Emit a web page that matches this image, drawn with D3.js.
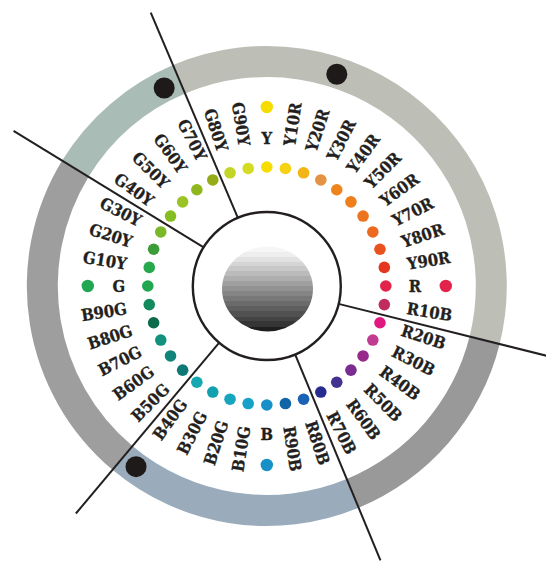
<!DOCTYPE html>
<html>
<head>
<meta charset="utf-8">
<script src="https://cdn.jsdelivr.net/npm/d3@7"></script>
<style>
  html, body { margin: 0; padding: 0; background: #ffffff; }
  svg { display: block; }
</style>
</head>
<body>
<svg id="chart" width="546" height="561"></svg>
<script>
// ---- data ----
const hues = ["Y","Y10R","Y20R","Y30R","Y40R","Y50R","Y60R","Y70R","Y80R","Y90R",
              "R","R10B","R20B","R30B","R40B","R50B","R60B","R70B","R80B","R90B",
              "B","B10G","B20G","B30G","B40G","B50G","B60G","B70G","B80G","B90G",
              "G","G10Y","G20Y","G30Y","G40Y","G50Y","G60Y","G70Y","G80Y","G90Y"];
const hueColors = ["#f6dc00","#f6d214","#f3b514","#e39342","#ee851c","#ef7f1a","#ee731e","#ec6a20","#e9521f","#e5371f",
                   "#e2244c","#c12c5e","#e1187f","#c03c90","#96298a","#7b2c91","#44308e","#262d8e","#1a62b6","#0f65a6",
                   "#1690c6","#18a1c8","#17a5bd","#11a1ae","#16a8b0","#0e7877","#0f8478","#14907e","#0b6b4a","#138a5e",
                   "#21a651","#26a84c","#3c9c38","#7ab82a","#86bd20","#9ac425","#90b71e","#95ab18","#c2d424","#d4dc22"];
const elementaryHues = ["Y","R","B","G"];
const spokeAngles = [-113, -148.5, 14, 67.5, 130];           // degrees, screen coords
const ringSegments = [
  {from: -113,  to: 14,    color: "#bdbfb6"},
  {from: 14,    to: 67.5,  color: "#999999"},
  {from: 67.5,  to: 130,   color: "#9aabbc"},
  {from: 130,   to: 211.5, color: "#9e9e9e"},
  {from: 211.5, to: 247,   color: "#a9bcb6"}
];
const markerAngles = [-117.4, -71.7, 125.9];
const grayLevels = ["#f6f6f6","#eeeeee","#e2e2e2","#d5d5d5","#c8c8c8","#bbbbbb","#aeaeae","#a0a0a0",
                    "#929292","#858585","#787878","#6b6b6b","#5e5e5e","#515151","#444444","#353535","#1e1e1e"];

// ---- layout ----
const cx = 266.8, cy = 286;
const R = {
  dots: 119, outerDots: 179, labels: 142, elemLabels: 148,
  ringIn: 209, ringOut: 240, marker: 223, core: 74, spokeEnd: 297
};
const rad = d => d * Math.PI / 180;
const svg = d3.select("#chart");
const g = svg.append("g").attr("transform", `translate(${cx},${cy})`);

const angle = d3.scaleLinear().domain([0, hues.length]).range([-90, 270]);
const polar = (r, a) => [r * Math.cos(rad(a)), r * Math.sin(rad(a))];

// sphere gradient (banded)
const defs = svg.append("defs");
const grad = defs.append("linearGradient").attr("id", "sphere")
  .attr("x1", 0).attr("y1", 0).attr("x2", 0).attr("y2", 1);
const n = grayLevels.length;
grayLevels.forEach((c, i) => {
  grad.append("stop").attr("offset", i / n).attr("stop-color", c);
  grad.append("stop").attr("offset", (i + 1) / n).attr("stop-color", c);
});

// outer ring
const arc = d3.arc().innerRadius(R.ringIn).outerRadius(R.ringOut);
g.selectAll("path.ring").data(ringSegments).join("path")
  .attr("class", "ring")
  .attr("d", d => arc({startAngle: rad(d.from + 90), endAngle: rad(d.to + 90)}))
  .attr("fill", d => d.color);

// spokes
g.selectAll("line.spoke").data(spokeAngles).join("line")
  .attr("class", "spoke")
  .attr("x1", d => polar(R.core, d)[0]).attr("y1", d => polar(R.core, d)[1])
  .attr("x2", d => polar(R.spokeEnd, d)[0]).attr("y2", d => polar(R.spokeEnd, d)[1])
  .attr("stroke", "#231f20").attr("stroke-width", 2);

// markers on ring
g.selectAll("circle.marker").data(markerAngles).join("circle")
  .attr("class", "marker")
  .attr("cx", d => polar(R.marker, d)[0]).attr("cy", d => polar(R.marker, d)[1])
  .attr("r", 10.5).attr("fill", "#1e1a1a");

// core
g.append("circle").attr("r", R.core).attr("fill", "#fff")
  .attr("stroke", "#231f20").attr("stroke-width", 2.4);
g.append("ellipse").attr("cx", 0.7).attr("cy", 3).attr("rx", 45.5).attr("ry", 42.5)
  .attr("fill", "url(#sphere)");

// hue dots
g.selectAll("circle.hue").data(hues).join("circle")
  .attr("class", "hue")
  .attr("cx", (d, i) => polar(R.dots, angle(i))[0])
  .attr("cy", (d, i) => polar(R.dots, angle(i))[1])
  .attr("r", 5.8).attr("fill", (d, i) => hueColors[i]);

// elementary outer dots
g.selectAll("circle.elem").data(elementaryHues).join("circle")
  .attr("class", "elem")
  .attr("cx", d => polar(R.outerDots, angle(hues.indexOf(d)))[0])
  .attr("cy", d => polar(R.outerDots, angle(hues.indexOf(d)))[1])
  .attr("r", 6.2).attr("fill", d => hueColors[hues.indexOf(d)]);

// labels
const font = "'DejaVu Serif Condensed', 'DejaVu Serif', serif";
g.selectAll("text.lbl").data(hues).join("text")
  .attr("class", "lbl")
  .attr("font-family", font).attr("font-weight", "bold").attr("font-size", 16.5)
  .attr("fill", "#231f20")
  .attr("stroke", "#231f20").attr("stroke-width", 0.3)
  .attr("dy", "0.36em")
  .each(function(d, i) {
    const a = angle(i);
    const t = d3.select(this).text(d);
    if (elementaryHues.includes(d)) {
      const [x, y] = polar(R.elemLabels, a);
      t.attr("text-anchor", "middle").attr("transform", `translate(${x},${y})`);
    } else {
      const [x, y] = polar(R.labels, a);
      const right = Math.cos(rad(a)) > 0;
      t.attr("text-anchor", right ? "start" : "end")
       .attr("transform", `translate(${x},${y}) rotate(${right ? a : a + 180})`);
    }
  });
</script>
</body>
</html>
